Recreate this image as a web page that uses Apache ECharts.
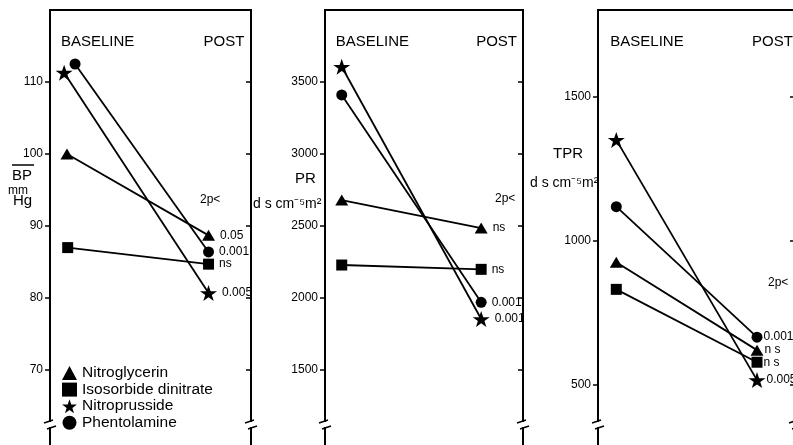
<!DOCTYPE html>
<html>
<head>
<meta charset="utf-8">
<script src="https://cdn.jsdelivr.net/npm/echarts@6/dist/echarts.min.js"></script>
<style>
  html, body { margin: 0; padding: 0; background: #fff; }
  #chart { width: 793px; height: 445px; }
</style>
</head>
<body>
<div id="chart"></div>
<script>
// Haemodynamic response to four vasodilators: baseline vs post values
const phaseLabels = ['BASELINE', 'POST'];
const drugs = ['Nitroglycerin', 'Isosorbide dinitrate', 'Nitroprusside', 'Phentolamine'];

// Mean blood pressure (mm Hg)
const bpTicks = [70, 80, 90, 100, 110];
const bpBaselineX = [0, 0.005, -0.02, 0.057];
const bpBaseline = [100, 87.0, 111.3, 112.5];
const bpPost = [88.7, 84.7, 80.7, 86.4];
const bpP = ['0.05', 'ns', '0.005', '0.001'];

// Peripheral resistance (d s cm-5 m2)
const prTicks = [1500, 2000, 2500, 3000, 3500];
const prBaseline = [2680, 2229, 3606, 3410];
const prPost = [2486, 2199, 1854, 1970];
const prP = ['ns', 'ns', '0.001', '0.001'];

// Total peripheral resistance (d s cm-5 m2)
const tprTicks = [500, 1000, 1500];
const tprBaseline = [924, 830, 1349, 1117];
const tprPost = [619, 577, 515, 664];
const tprP = ['n s', 'n s', '0.005', '0.001'];

const FONT = '"Liberation Sans", Arial, Helvetica, sans-serif';
const STAR = 'path://M50,0L61.8,35.1L98.1,35.1L68.7,56.7L79.4,91L50,70L20.6,91L31.3,56.7L1.9,35.1L38.2,35.1Z';
const symbols = ['triangle', 'rect', STAR, 'circle'];
const symbolSizes = [[13, 11], [11, 11], [17, 16], [11, 11]];

const panels = [
  { left: 50, width: 201, xMin: -0.12, xMax: 1.3, yMin: 50, yMax: 120, ticks: bpTicks,
    baseX: bpBaselineX, base: bpBaseline, post: bpPost, p: bpP, labelDist: 5 },
  { left: 325, width: 198, xMin: -0.12, xMax: 1.3, yMin: 500, yMax: 4000, ticks: prTicks,
    baseX: [0, 0, 0, 0], base: prBaseline, post: prPost, p: prP, labelDist: 5 },
  { left: 598, width: 197, xMin: -0.13, xMax: 1.27, yMin: 50, yMax: 1800, ticks: tprTicks,
    baseX: [0, 0, 0, 0], base: tprBaseline, post: tprPost, p: tprP, labelDist: 1 }
];

const grids = [], xAxes = [], yAxes = [], series = [];
panels.forEach((pn, i) => {
  grids.push({
    left: pn.left, top: 10, width: pn.width, height: 504,
    outerBoundsMode: 'none', containLabel: false,
    show: true, borderColor: '#000', borderWidth: 2, backgroundColor: 'transparent'
  });
  xAxes.push({ gridIndex: i, type: 'value', min: pn.xMin, max: pn.xMax, show: false });
  const common = {
    gridIndex: i, type: 'value', min: pn.yMin, max: pn.yMax,
    splitLine: { show: false },
    axisLine: { show: true, onZero: false, lineStyle: { color: '#000', width: 2 } }
  };
  yAxes.push(Object.assign({}, common, {
    position: 'left',
    axisTick: { show: true, customValues: pn.ticks, length: 5, inside: false, lineStyle: { color: '#000', width: 1.5 } },
    axisLabel: { show: true, customValues: pn.ticks, margin: 7, color: '#000', fontSize: 12, fontFamily: FONT,
                 formatter: (v) => String(v) }
  }));
  yAxes.push(Object.assign({}, common, {
    position: 'right',
    axisTick: { show: true, customValues: pn.ticks, length: 5, inside: true, lineStyle: { color: '#000', width: 1.5 } },
    axisLabel: { show: false }
  }));
  drugs.forEach((name, k) => {
    series.push({
      type: 'line', name: name,
      xAxisIndex: i, yAxisIndex: 2 * i,
      symbol: symbols[k], symbolSize: symbolSizes[k],
      lineStyle: { color: '#000', width: 1.8 },
      itemStyle: { color: '#000' },
      z: 3,
      data: [
        { value: [pn.baseX[k], pn.base[k]] },
        { value: [1, pn.post[k]],
          label: { show: true, position: 'right', distance: pn.labelDist, formatter: pn.p[k],
                   color: '#000', fontSize: 12, fontFamily: FONT } }
      ]
    });
  });
});

const chart = echarts.init(document.getElementById('chart'), null, { renderer: 'canvas' });
chart.setOption({
  animation: false,
  backgroundColor: '#fff',
  grid: grids,
  xAxis: xAxes,
  yAxis: yAxes,
  legend: {
    orient: 'vertical', left: 62, top: 365, height: 120, padding: 0,
    itemWidth: 15, itemHeight: 14, itemGap: 0.6,
    selectedMode: false,
    textStyle: { color: '#000', fontSize: 15.5, fontFamily: FONT, lineHeight: 12 },
    data: drugs.map((name, k) => ({ name: name, icon: symbols[k] }))
  },
  series: series
});

// Header labels, axis titles and broken-axis marks
const g = [];
function txt(x, y, text, size, extra) {
  g.push(Object.assign({
    type: 'text', x: x, y: y, silent: true,
    style: Object.assign({ text: text, fill: '#000', font: size + 'px ' + FONT,
      textAlign: 'left', textVerticalAlign: 'middle', align: 'left', verticalAlign: 'middle' }, extra || {})
  }));
}
panels.forEach((pn, i) => {
  const b = chart.convertToPixel({ xAxisIndex: i, yAxisIndex: 2 * i }, [0, pn.yMax]);
  const q = chart.convertToPixel({ xAxisIndex: i, yAxisIndex: 2 * i }, [1, pn.yMax]);
  txt(b[0] - 6, 42, phaseLabels[0], 15);
  txt(q[0] - 5, 42, phaseLabels[1], 15);
});

// Mean BP title
g.push({ type: 'line', silent: true, shape: { x1: 12, y1: 165, x2: 34, y2: 165 }, style: { stroke: '#000', lineWidth: 1.5 } });
txt(12, 176, 'BP', 15);
txt(8, 191, 'mm', 12);
txt(13, 201, 'Hg', 15);
txt(200, 200, '2p<', 12);
// PR title
txt(295, 179, 'PR', 15);
txt(253, 204, 'd s cm\u207B\u2075m\u00B2', 14);
txt(495, 199, '2p<', 12);
// TPR title
txt(553, 154, 'TPR', 15);
txt(530, 183, 'd s cm\u207B\u2075m\u00B2', 14);
txt(768, 283, '2p<', 12);

// Broken-axis marks near the bottom of each axis
function breakMark(x, y) {
  g.push({ type: 'rect', silent: true, z: 100, shape: { x: x - 3, y: y - 2, width: 6, height: 5 }, style: { fill: '#fff' } });
  g.push({ type: 'line', silent: true, z: 101, shape: { x1: x - 6, y1: y - 1, x2: x + 3, y2: y - 4 }, style: { stroke: '#000', lineWidth: 1.6 } });
  g.push({ type: 'line', silent: true, z: 101, shape: { x1: x - 3, y1: y + 5, x2: x + 6, y2: y + 2 }, style: { stroke: '#000', lineWidth: 1.6 } });
}
panels.forEach((pn) => {
  breakMark(pn.left, 424);
  breakMark(pn.left + pn.width, 424);
});

chart.setOption({ graphic: g });
</script>
</body>
</html>
